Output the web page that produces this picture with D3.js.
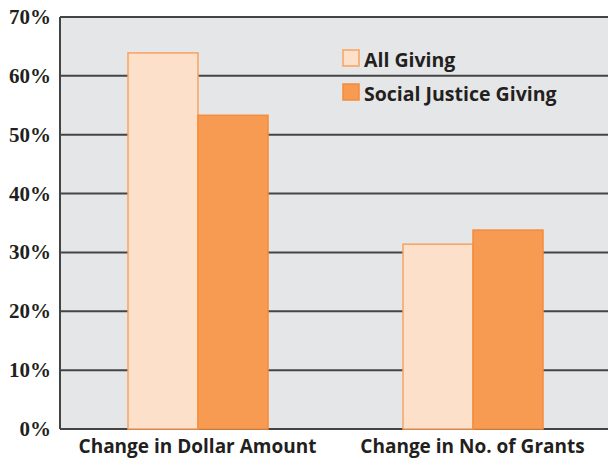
<!DOCTYPE html>
<html>
<head>
<meta charset="utf-8">
<script src="https://cdn.jsdelivr.net/npm/d3@7"></script>
<style>
  body { margin: 0; background: #fff; }
  text { font-family: "Open Sans", sans-serif; font-weight: bold; fill: #231f20; }
</style>
</head>
<body>
<script>
// chart data
var categories = ["Change in Dollar Amount", "Change in No. of Grants"];
var seriesNames = ["All Giving", "Social Justice Giving"];
var allGiving = [63.9, 31.4];
var socialJustice = [53.3, 33.8];
var yTicks = [0, 10, 20, 30, 40, 50, 60, 70];

var width = 608, height = 459;
var margin = {top: 17, right: -2, bottom: 30, left: 60};

var svg = d3.select("body").append("svg")
    .attr("width", width)
    .attr("height", height);

var x = d3.scaleBand()
    .domain(categories)
    .range([margin.left, width - margin.right]);

var y = d3.scaleLinear()
    .domain([0, 70])
    .range([height - margin.bottom, margin.top]);

var barW = 70;
var fills = ["#fde0ca", "#f79b52"];
var strokes = ["#f7a262", "#f58c3e"];

//plot background
svg.append("rect")
    .attr("x", margin.left)
    .attr("y", margin.top)
    .attr("width", width - margin.left)
    .attr("height", y(0) - margin.top)
    .attr("fill", "#e5e6e7");

//gridlines
svg.selectAll(".grid")
    .data(yTicks)
    .enter()
    .append("line")
    .attr("x1", margin.left)
    .attr("x2", width)
    .attr("y1", function(d){ return y(d); })
    .attr("y2", function(d){ return y(d); })
    .attr("stroke", "#444")
    .attr("stroke-width", 2);

//left axis line
svg.append("line")
    .attr("x1", margin.left).attr("x2", margin.left)
    .attr("y1", margin.top).attr("y2", y(0))
    .attr("stroke", "#444")
    .attr("stroke-width", 2);

//y labels
svg.selectAll(".ylab")
    .data(yTicks)
    .enter()
    .append("text")
    .attr("x", 51)
    .attr("y", function(d){ return y(d) + 7; })
    .attr("text-anchor", "end")
    .style("font-family", "'Liberation Serif', serif")
    .style("font-size", "21px")
    .text(function(d){ return d + "%"; });

//bars
var series = [allGiving, socialJustice];
series.forEach(function(vals, s){
    svg.selectAll(".bar" + s)
        .data(vals)
        .enter()
        .append("rect")
        .attr("x", function(d, i){ return x(categories[i]) + x.bandwidth() / 2 - barW + s * barW + 0.5; })
        .attr("y", function(d){ return y(d); })
        .attr("width", barW)
        .attr("height", function(d){ return y(0) - y(d); })
        .attr("fill", fills[s])
        .attr("stroke", strokes[s])
        .attr("stroke-width", 1.5);
});

//category labels
svg.selectAll(".xlab")
    .data(categories)
    .enter()
    .append("text")
    .attr("x", function(d){ return x(d) + x.bandwidth() / 2; })
    .attr("y", 453)
    .attr("text-anchor", "middle")
    .style("font-size", "19px")
    .text(function(d){ return d; });

//legend
var legend = svg.selectAll(".legend")
    .data(seriesNames)
    .enter()
    .append("g")
    .attr("transform", function(d, i){ return "translate(343," + (50 + i * 34) + ")"; });

legend.append("rect")
    .attr("width", 16).attr("height", 16)
    .attr("fill", function(d, i){ return fills[i]; })
    .attr("stroke", function(d, i){ return strokes[i]; })
    .attr("stroke-width", 1.5);

legend.append("text")
    .attr("x", 21)
    .attr("y", 17)
    .style("font-size", "19.5px")
    .text(function(d){ return d; });
</script>
</body>
</html>
